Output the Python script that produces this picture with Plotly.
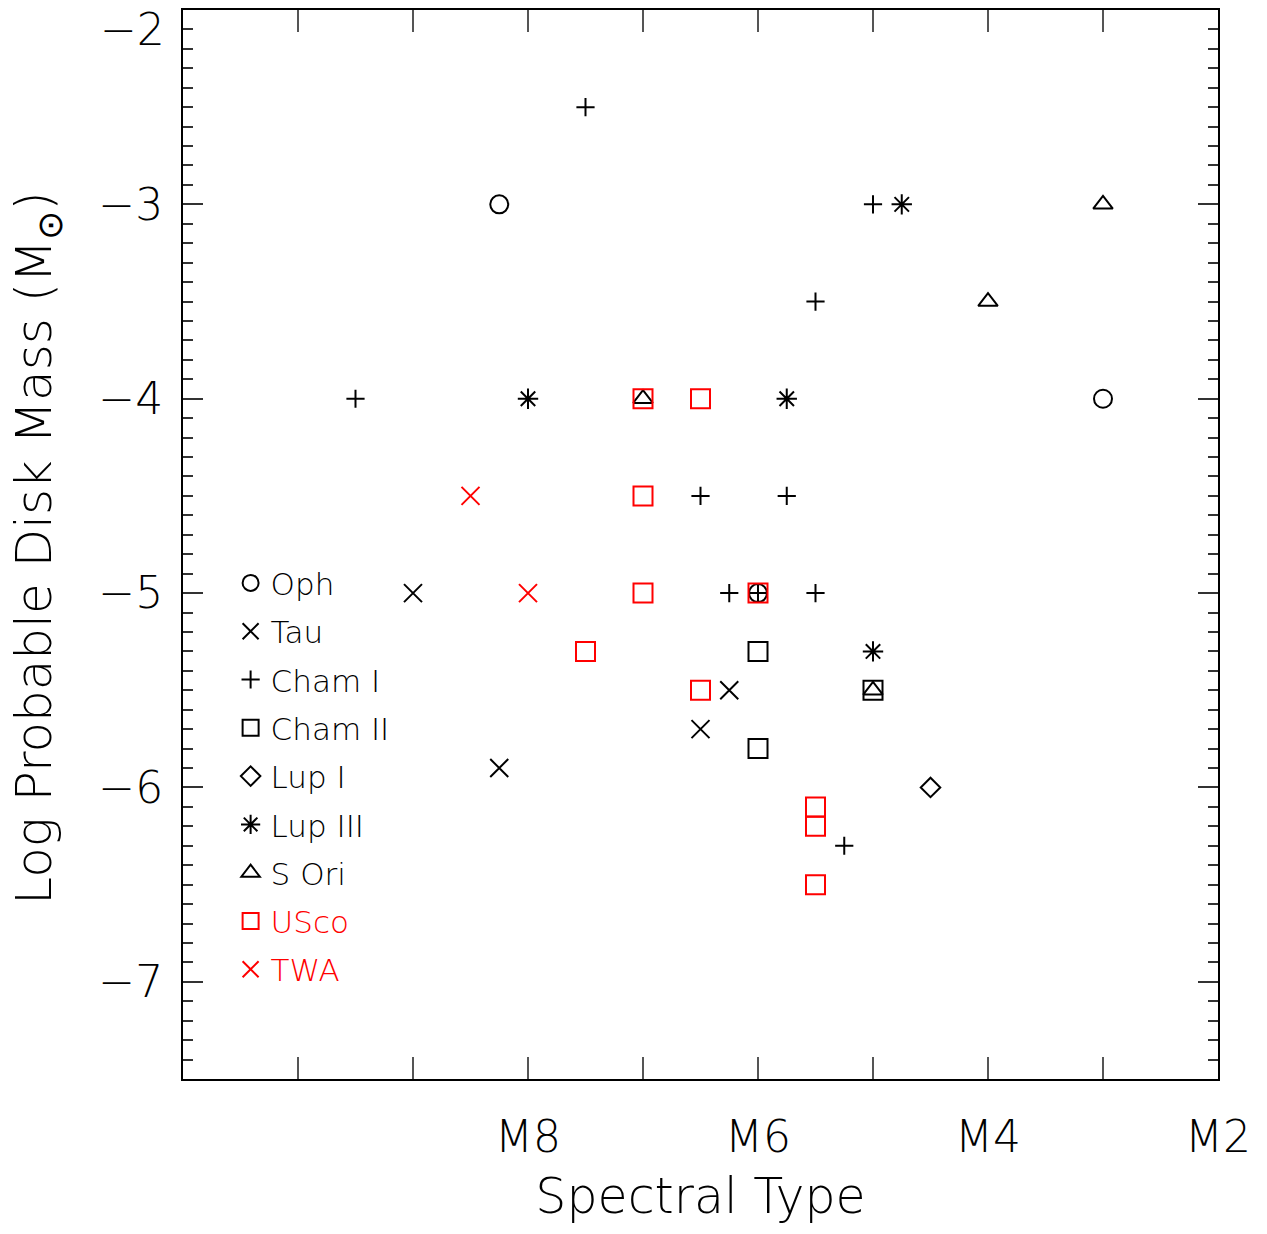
import plotly.graph_objects as go

# Spectral subtype (M-number) and log disk mass for each group
oph_x = [8.25, 3, 6]
oph_y = [-3.0, -4.0, -5.0]
tau_x = [9, 8.25, 6.25, 6.5]
tau_y = [-5.0, -5.9, -5.5, -5.7]
chamI_x = [7.5, 9.5, 5, 5.5, 6.5, 5.75, 6.25, 6, 5.5, 5.25]
chamI_y = [-2.5, -4.0, -3.0, -3.5, -4.5, -4.5, -5.0, -5.0, -5.0, -6.3]
chamII_x = [6, 6, 5]
chamII_y = [-5.3, -5.8, -5.5]
lupI_x = [4.5]
lupI_y = [-6.0]
lupIII_x = [8, 5.75, 4.75, 5]
lupIII_y = [-4.0, -4.0, -3.0, -5.3]
sori_x = [3, 4, 7, 5]
sori_y = [-3.0, -3.5, -4.0, -5.5]
usco_x = [7, 6.5, 7, 7, 7.5, 6.5, 6, 5.5, 5.5, 5.5]
usco_y = [-4.0, -4.0, -4.5, -5.0, -5.3, -5.5, -5.0, -6.1, -6.2, -6.5]
twa_x = [8.5, 8]
twa_y = [-4.5, -5.0]

x_tickvals = [11, 10, 9, 8, 7, 6, 5, 4, 3, 2]
x_ticktext = ["", "", "", "M8", "", "M6", "", "M4", "", "M2"]
y_tickvals = [-7, -6, -5, -4, -3, -2]
y_ticktext = ["−7", "−6", "−5", "−4", "−3", ""]
y_top_label = "−2"
y_title = "Log Probable Disk Mass (M<sub>⊙</sub>)"
x_title = "Spectral Type"

FONT = "DejaVu Sans"
W = 200
BLACK = "#000000"
RED = "#ff0000"

series = [
    ("Oph", oph_x, oph_y, "circle-open", 18, BLACK),
    ("Tau", tau_x, tau_y, "x-thin-open", 18, BLACK),
    ("Cham I", chamI_x, chamI_y, "cross-thin-open", 13, BLACK),
    ("Cham II", chamII_x, chamII_y, "square-open", 19, BLACK),
    ("Lup I", lupI_x, lupI_y, "diamond-open", 15, BLACK),
    ("Lup III", lupIII_x, lupIII_y, "asterisk-open", 17, BLACK),
    ("S Ori", sori_x, sori_y, "triangle-up-open", 17, BLACK),
    ("USco", usco_x, usco_y, "square-open", 19, RED),
    ("TWA", twa_x, twa_y, "x-thin-open", 18, RED),
]

fig = go.Figure()
for i, (name, xs, ys, sym, size, col) in enumerate(series):
    label = name if col == BLACK else f'<span style="color:{col}">{name}</span>'
    fig.add_trace(go.Scatter(
        x=xs, y=ys, mode="markers", name=label, legendgroup=f"g{i}",
        marker=dict(symbol=sym, size=size, color=col,
                    line=dict(color=col, width=2)),
    ))

fig.add_annotation(
    text=y_top_label, xref="paper", yref="paper", x=0, y=1.0,
    xanchor="right", yanchor="top", xshift=-16, yshift=8, showarrow=False,
    font=dict(family=FONT, size=44, weight=W, color="black"),
)
fig.add_annotation(
    text=y_title, xref="paper", yref="paper", x=-0.140, y=0.497,
    xanchor="center", yanchor="middle", textangle=-90, showarrow=False,
    font=dict(family=FONT, size=50, weight=W, color="black"),
)

fig.update_layout(
    width=1267, height=1234,
    margin=dict(l=183, r=49, t=8, b=155),
    paper_bgcolor="white", plot_bgcolor="white",
    font=dict(family=FONT, color="black", size=30, weight=W),
    showlegend=True,
    legend=dict(x=0.046, y=0.489, xanchor="left", yanchor="top",
                bgcolor="rgba(0,0,0,0)", borderwidth=0,
                font=dict(family=FONT, size=31, weight=W),
                tracegroupgap=5, itemwidth=30),
    xaxis=dict(
        range=[11, 2], tickvals=x_tickvals, ticktext=x_ticktext,
        ticks="inside", ticklen=22, tickwidth=1.5, tickcolor="#555",
        showline=True, linecolor="black", linewidth=2, mirror="ticks",
        showgrid=False, zeroline=False,
        tickfont=dict(family=FONT, size=44, weight=W),
        ticklabelstandoff=18,
        title=dict(text=x_title, font=dict(family=FONT, size=49, weight=W),
                   standoff=18),
    ),
    yaxis=dict(
        range=[-7.5, -2], tickvals=y_tickvals, ticktext=y_ticktext,
        ticks="inside", ticklen=20, tickwidth=1.5, tickcolor="#333",
        minor=dict(dtick=0.1, ticks="inside", ticklen=10, tickwidth=1.5, tickcolor="#333"),
        showline=True, linecolor="black", linewidth=2, mirror="ticks",
        showgrid=False, zeroline=False,
        tickfont=dict(family=FONT, size=44, weight=W),
        ticklabelstandoff=9,
    ),
)

fig.write_html("out.html")
